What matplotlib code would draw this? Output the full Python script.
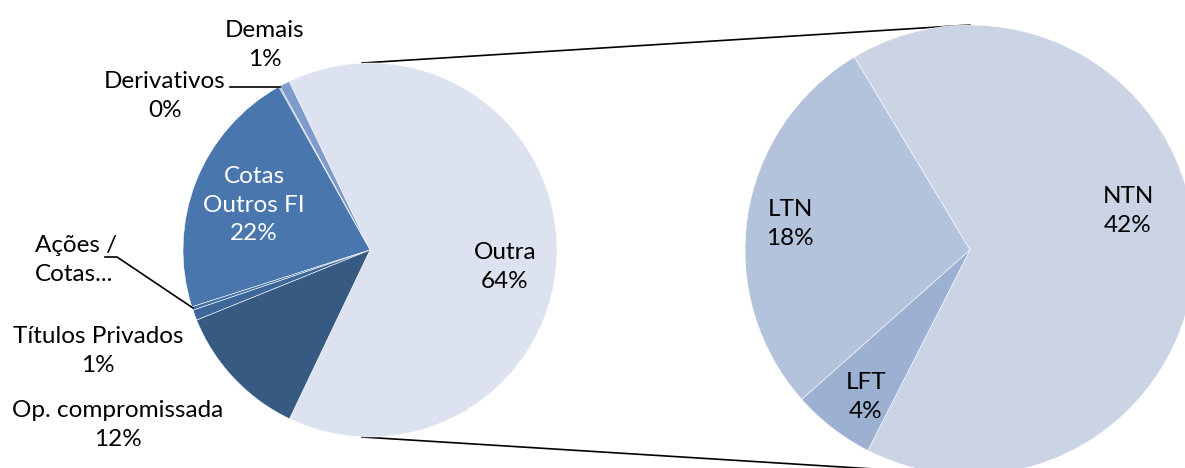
import matplotlib.pyplot as plt

plt.rcParams['font.family'] = ['Lato', 'DejaVu Sans']

# main pie (counter-clockwise from "Outra")
main_labels = ['Outra', 'Demais', 'Derivativos', 'Cotas Outros FI', 'Ações / Cotas...',
               'Títulos Privados', 'Op. compromissada']
main_values = [64.2, 0.9, 0.1, 21.8, 0.3, 0.9, 11.8]
main_pct = ['64%', '1%', '0%', '22%', '0%', '1%', '12%']
main_colors = ['#DCE2EF', '#7F9BCB', '#5A82BA', '#4A76AE', '#4270A6', '#3E6799', '#375A83']

# breakdown of "Outra"
sub_labels = ['NTN', 'LTN', 'LFT']
sub_values = [42.3, 17.9, 3.8]
sub_pct = ['42%', '18%', '4%']
sub_colors = ['#CAD4E5', '#B4C3DC', '#9CB0D2']

W, H = 1185, 468
fig = plt.figure(figsize=(W / 100, H / 100), dpi=100)
ax = fig.add_axes([0, 0, 1, 1])

c1, r1 = (370, 218), 187
c2, r2 = (970, 218), 225

# connector lines (drawn under the pies)
ax.plot([362, c2[0]], [c1[1] + r1, c2[1] + r2], color='black', lw=1.2, zorder=1)
ax.plot([362, c2[0]], [c1[1] - r1, c2[1] - r2], color='black', lw=1.2, zorder=1)

w1, _ = ax.pie(main_values, colors=main_colors, startangle=-115.5, counterclock=True,
               center=c1, radius=r1, frame=True,
               wedgeprops=dict(edgecolor='white', linewidth=0.4))
w2, _ = ax.pie(sub_values, colors=sub_colors, startangle=-117, counterclock=True,
               center=c2, radius=r2, frame=True,
               wedgeprops=dict(edgecolor='white', linewidth=0.4))
for w in list(w1) + list(w2):
    w.set_zorder(2)
ax.set_xlim(0, W)
ax.set_ylim(0, H)
ax.set_aspect('equal')
ax.axis('off')

fs = 17.5
ls = 1.45


def lab(x, y, s, color='black', ha='center'):
    ax.text(x, H - y, s, ha=ha, va='center', fontsize=fs, color=color,
            linespacing=ls, zorder=5)


lab(505, 267, f'{main_labels[0]}\n{main_pct[0]}')
lab(265, 45, f'{main_labels[1]}\n{main_pct[1]}')
lab(165, 96, f'{main_labels[2]}\n{main_pct[2]}')
lab(254, 205, 'Cotas\nOutros FI\n' + main_pct[3], color='white')
lab(35, 260, 'Ações /\nCotas...', ha='left')
lab(98, 351, f'{main_labels[5]}\n{main_pct[5]}')
lab(118, 425, f'{main_labels[6]}\n{main_pct[6]}')

lab(1128, 211, f'{sub_labels[0]}\n{sub_pct[0]}')
lab(790, 224, f'{sub_labels[1]}\n{sub_pct[1]}')
lab(866, 397, f'{sub_labels[2]}\n{sub_pct[2]}')

# leader lines
ax.plot([230, 280], [H - 87, H - 87], color='black', lw=1.2, zorder=4)
ax.plot([105, 117, 193], [H - 257, H - 257, H - 308], color='black', lw=1.2, zorder=4)

fig.savefig('out.png', dpi=100)
